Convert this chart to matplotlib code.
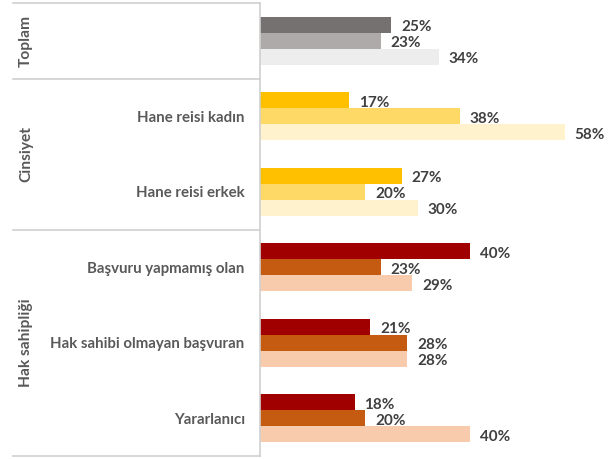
import numpy as np
import matplotlib.pyplot as plt
from matplotlib.transforms import blended_transform_factory

# Categories top to bottom
categories = ["Toplam", "Hane reisi kadın", "Hane reisi erkek",
              "Başvuru yapmamış olan", "Hak sahibi olmayan başvuran", "Yararlanıcı"]
tick_labels = ["", "Hane reisi kadın", "Hane reisi erkek",
               "Başvuru yapmamış olan", "Hak sahibi olmayan başvuran", "Yararlanıcı"]

# Three series per category (top, middle, bottom bar), in percent
series1 = [25, 17, 27, 40, 21, 18]
series2 = [23, 38, 20, 23, 28, 20]
series3 = [34, 58, 30, 29, 28, 40]

# Colour of each bar (top, middle, bottom) per category
colors_top = ["#767171", "#FFC000", "#FFC000", "#A00000", "#A00000", "#A00000"]
colors_mid = ["#AEAAAA", "#FFD966", "#FFD966", "#C55A11", "#C55A11", "#C55A11"]
colors_bot = ["#EDEDED", "#FFF2CC", "#FFF2CC", "#F8CBAD", "#F8CBAD", "#F8CBAD"]

# Group labels with (first, last) category index
groups = [("Toplam", 0, 0), ("Cinsiyet", 1, 2), ("Hak sahipliği", 3, 5)]

W, H = 613, 459
fig = plt.figure(figsize=(W / 100, H / 100), dpi=100)
ax = fig.add_axes([260 / W, 3 / H, 353 / W, 453 / H])

y = np.arange(len(categories))
bh = 0.212
ax.barh(y - bh, series1, height=bh, color=colors_top)
ax.barh(y, series2, height=bh, color=colors_mid)
ax.barh(y + bh, series3, height=bh, color=colors_bot)

txt_col = "#404040"
for offs, vals in [(-bh, series1), (0, series2), (bh, series3)]:
    for yi, v in zip(y, vals):
        ax.text(v + 1.9, yi + offs + 0.035, f"{v}%", va="center", ha="left",
                fontsize=11, fontweight="bold", color=txt_col, family="Lato")

ax.set_xlim(0, 353 / 5.25)
ax.set_ylim(len(categories) - 0.5, -0.5)
ax.set_xticks([])
ax.set_yticks(y)
ax.set_yticklabels(tick_labels, fontsize=10.8, fontweight="bold",
                   color="#595959", family="Lato")
ax.tick_params(axis="y", length=0, pad=11)
for s in ["top", "right", "bottom"]:
    ax.spines[s].set_visible(False)
ax.spines["left"].set_color("#D0D0D0")
ax.spines["left"].set_linewidth(1.2)

# group separators and group labels
tr = blended_transform_factory(ax.transAxes, ax.transData)
x0 = (13 - 260) / 353
for yl in [-0.5, 0.5, 2.5, 5.5]:
    ax.plot([x0, 0], [yl, yl], color="#D0D0D0", lw=1.2, transform=tr, clip_on=False)
xg = (26 - 260) / 353
for name, a, b in groups:
    ax.text(xg, (a + b) / 2, name, rotation=90, ha="center", va="center",
            fontsize=11.2, fontweight="bold", color="#595959", family="Lato",
            transform=tr)

fig.savefig("out.png", dpi=100)
